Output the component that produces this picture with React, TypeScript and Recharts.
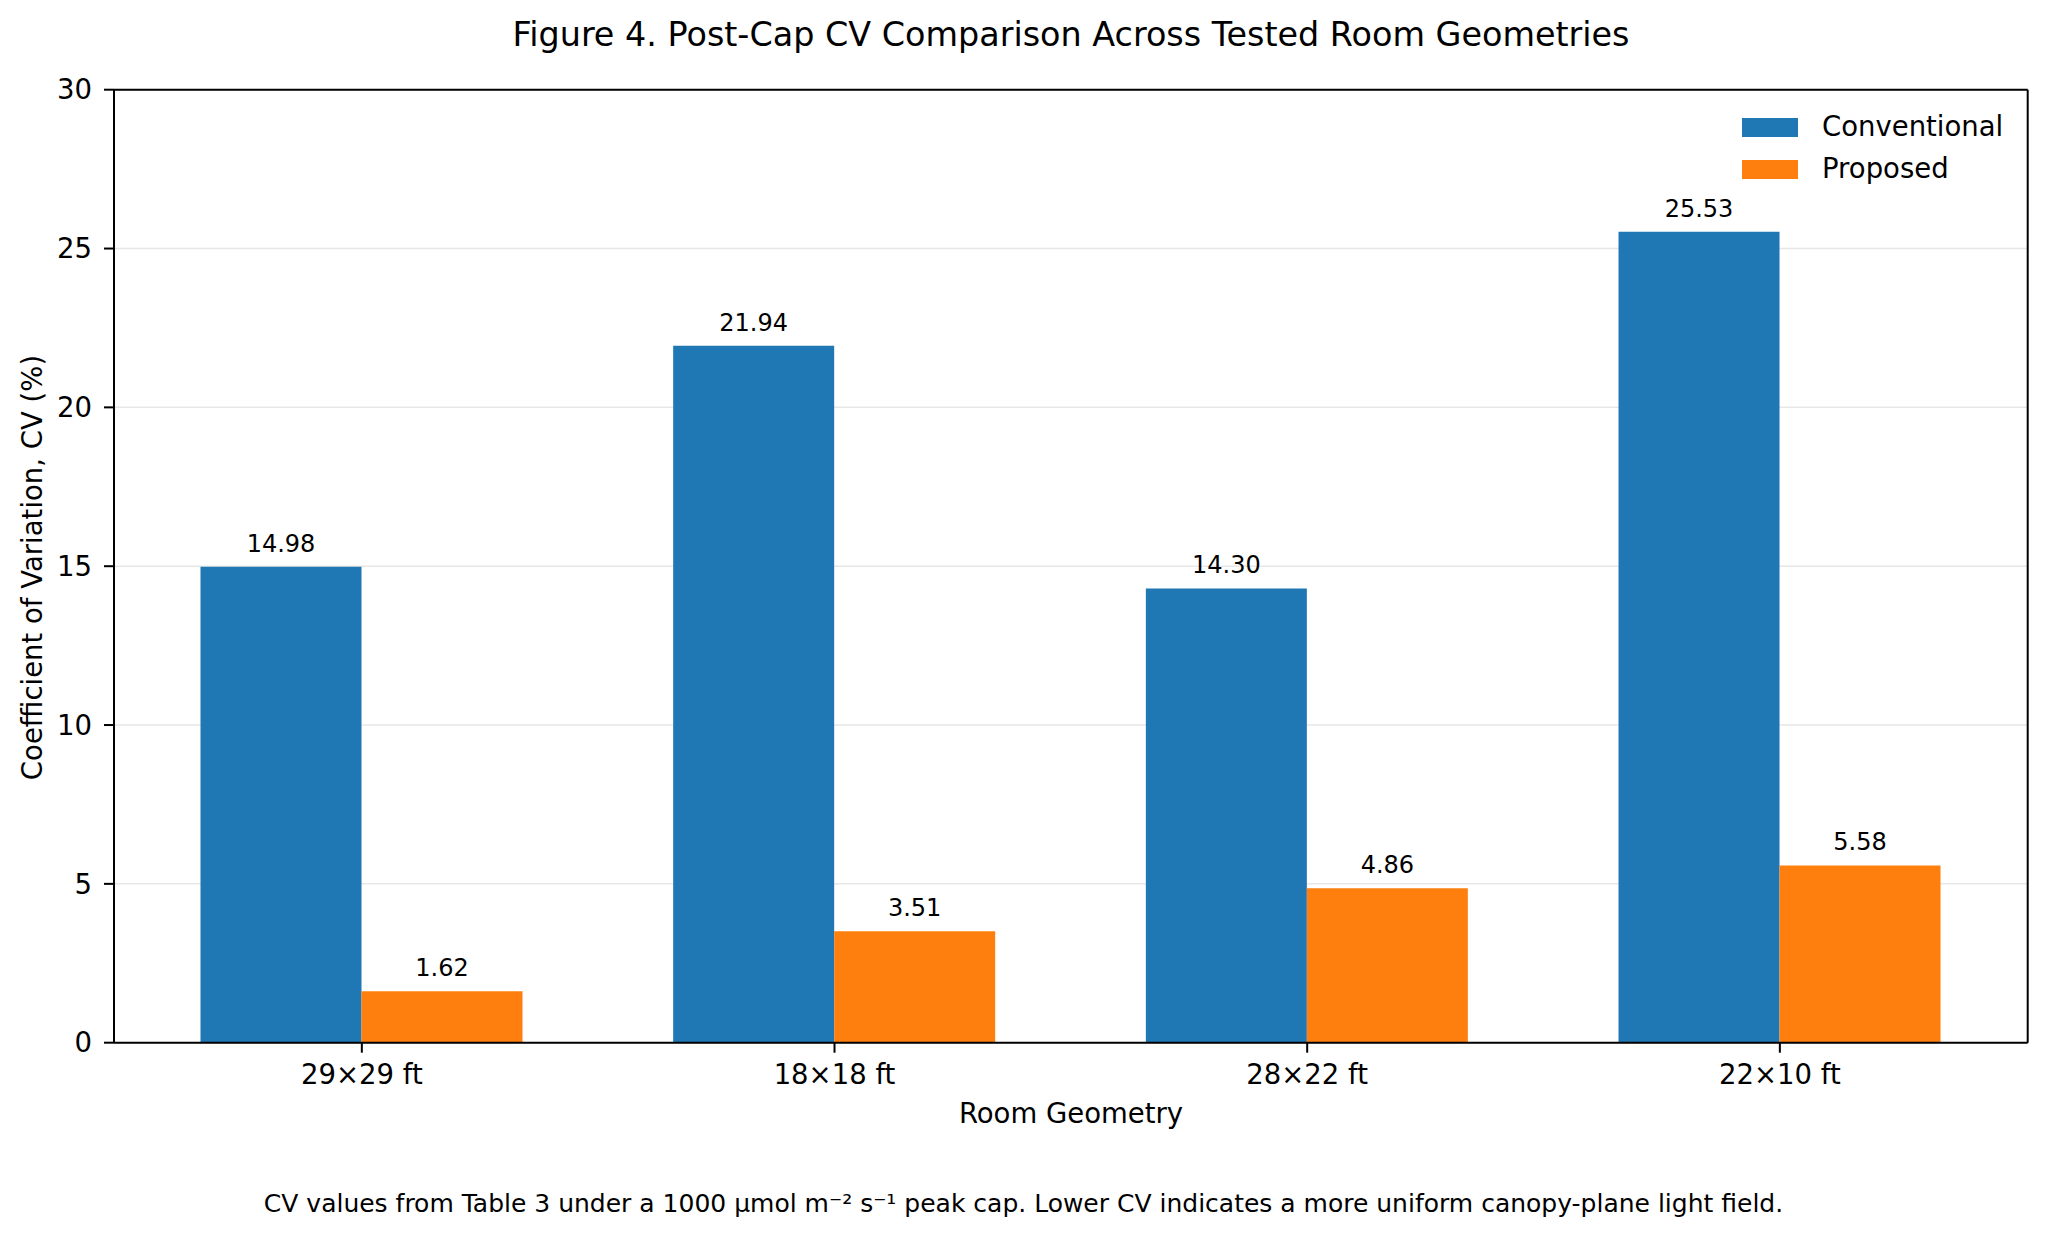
import React from "react";
import {
  BarChart, Bar, XAxis, YAxis, CartesianGrid, Legend, LabelList,
} from "recharts";

const ROOMS = ["29×29 ft", "18×18 ft", "28×22 ft", "22×10 ft"];
const CONVENTIONAL = [14.98, 21.94, 14.3, 25.53];
const PROPOSED = [1.62, 3.51, 4.86, 5.58];
const Y_TICKS = [0, 5, 10, 15, 20, 25, 30];

const SERIES = [
  { key: "conventional", name: "Conventional", color: "#1f77b4" },
  { key: "proposed", name: "Proposed", color: "#ff7f0e" },
];

const data = ROOMS.map((room, i) => ({
  room,
  conventional: CONVENTIONAL[i],
  proposed: PROPOSED[i],
}));

const FONT = "'DejaVu Sans', sans-serif";
const AXIS = { stroke: "#000", strokeWidth: 2 };

// value printed just above each bar
function BarValue(props: any) {
  const { x, y, width, value } = props;
  return (
    <text
      x={Number(x) + Number(width) / 2}
      y={Number(y) - 15}
      textAnchor="middle"
      fontSize={24}
      fill="#000"
      fontFamily={FONT}
    >
      {Number(value).toFixed(2)}
    </text>
  );
}

function LegendBox() {
  return (
    <div style={{ fontFamily: FONT, fontSize: 27.5, color: "#000" }}>
      {SERIES.map((s) => (
        <div key={s.key} style={{ display: "flex", alignItems: "center", height: 42 }}>
          <span style={{ width: 56, height: 19, background: s.color, marginRight: 24 }} />
          <span style={{ lineHeight: 1 }}>{s.name}</span>
        </div>
      ))}
    </div>
  );
}

export default function App() {
  return (
    <div
      style={{
        position: "absolute", left: 0, top: 0, width: 2047, height: 1237,
        background: "#fff", fontFamily: FONT, overflow: "hidden",
      }}
    >
      <div
        style={{
          position: "absolute", top: 18, left: 114, width: 1914,
          textAlign: "center", fontSize: 33.4, lineHeight: 1, color: "#000",
        }}
      >
        Figure 4. Post-Cap CV Comparison Across Tested Room Geometries
      </div>

      <BarChart
        width={2047}
        height={1237}
        data={data}
        barGap={0}
        barSize={161}
        margin={{ top: 89.7, right: 19.3, bottom: 109.3, left: 34 }}
      >
        <XAxis
          dataKey="room"
          height={85}
          padding={{ left: 11.5, right: 11.5 }}
          tick={{ fill: "#000", fontSize: 27.5, fontFamily: FONT }}
          tickSize={10}
          tickMargin={12}
          tickLine={AXIS}
          axisLine={AXIS}
          label={() => (
            <text x={1071} y={1123} textAnchor="middle" fontSize={27.5} fill="#000" fontFamily={FONT}>
              Room Geometry
            </text>
          )}
        />
        <YAxis
          width={80}
          domain={[0, 30]}
          ticks={Y_TICKS}
          tick={{ fill: "#000", fontSize: 27.5, fontFamily: FONT }}
          tickSize={10}
          tickMargin={12}
          tickLine={AXIS}
          axisLine={AXIS}
          label={() => (
            <text
              x={42}
              y={567.5}
              transform="rotate(-90, 42, 567.5)"
              textAnchor="middle"
              fontSize={27.5}
              fill="#000"
              fontFamily={FONT}
            >
              Coefficient of Variation, CV (%)
            </text>
          )}
        />
        {SERIES.map((s) => (
          <Bar key={s.key} dataKey={s.key} name={s.name} fill={s.color} isAnimationActive={false}>
            <LabelList dataKey={s.key} content={BarValue} />
          </Bar>
        ))}
        <CartesianGrid vertical={false} stroke="#b0b0b0" strokeOpacity={0.3} strokeWidth={1.5} />
        {/* top and right spines of the frame */}
        <CartesianGrid
          stroke="#000"
          strokeWidth={2}
          horizontalCoordinatesGenerator={({ offset }: any) => [offset.top]}
          verticalCoordinatesGenerator={({ offset }: any) => [offset.left + offset.width]}
        />
        <Legend
          layout="vertical"
          align="center"
          verticalAlign="middle"
          content={LegendBox}
          wrapperStyle={{ position: "absolute", left: 1742, top: 106, width: "auto", height: "auto" }}
        />
      </BarChart>

      <div
        style={{
          position: "absolute", top: 1191, left: 0, width: 2047,
          textAlign: "center", fontSize: 25, lineHeight: 1, color: "#000",
        }}
      >
        CV values from Table 3 under a 1000 µmol m⁻² s⁻¹ peak cap. Lower CV indicates a more uniform canopy-plane light field.
      </div>
    </div>
  );
}
